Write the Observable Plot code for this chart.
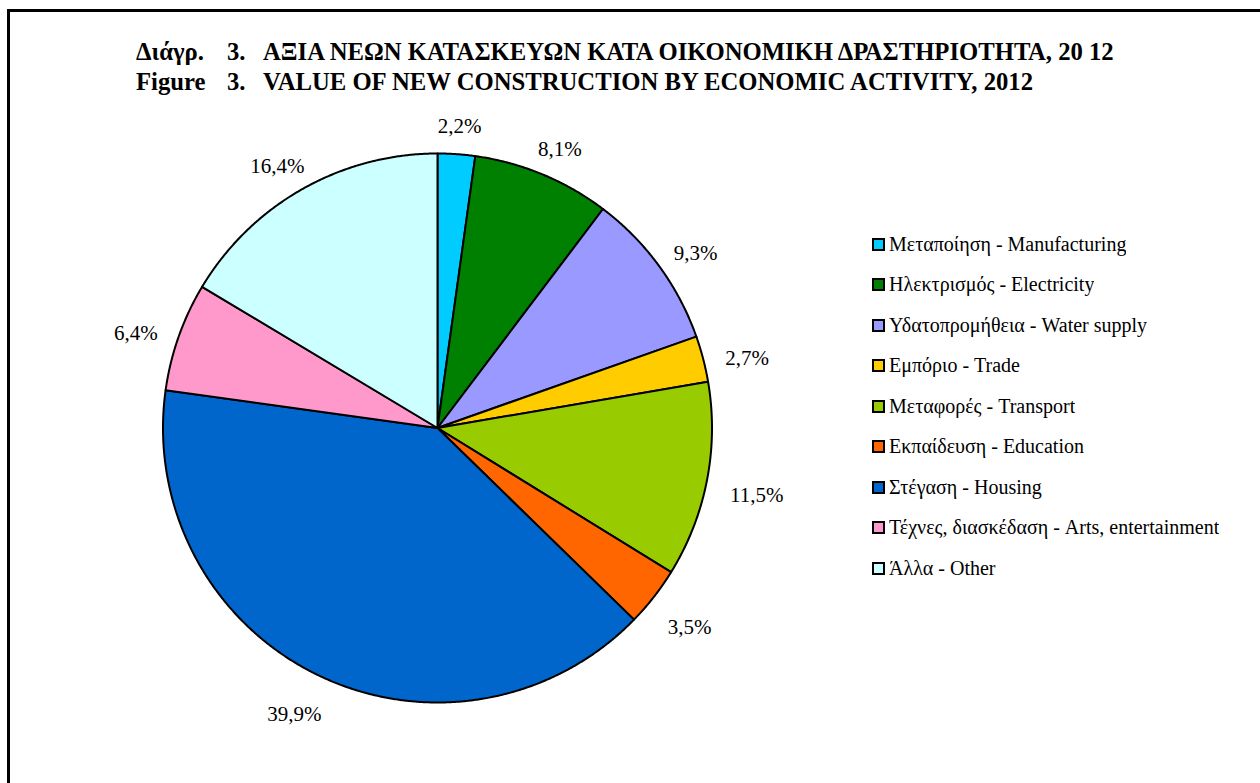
<!DOCTYPE html>
<html>
<head>
<meta charset="utf-8">
<script src="https://cdn.jsdelivr.net/npm/d3@7"></script>
<script src="https://cdn.jsdelivr.net/npm/@observablehq/plot@0.6"></script>
<style>
html, body { margin: 0; padding: 0; background: #fff; overflow: hidden; }
#wrap { position: relative; width: 1260px; height: 783px; overflow: hidden; font-family: "Liberation Serif", "Times New Roman", serif; color: #000; }
#frame { position: absolute; left: 7px; top: 9px; width: 1300px; height: 820px; border: 3px solid #000; box-sizing: border-box; pointer-events: none; }
.tl { position: absolute; font-weight: bold; font-size: 24.7px; line-height: 1; white-space: pre; }
</style>
</head>
<body>
<div id="wrap"><div id="frame"></div></div>
<script>
// ---- data ----
const categories = [
  "Μεταποίηση - Manufacturing",
  "Ηλεκτρισμός - Electricity",
  "Υδατοπρομήθεια - Water supply",
  "Εμπόριο - Trade",
  "Μεταφορές - Transport",
  "Εκπαίδευση - Education",
  "Στέγαση - Housing",
  "Τέχνες, διασκέδαση - Arts, entertainment",
  "Άλλα - Other"
];
const shares = [2.2, 8.1, 9.3, 2.7, 11.5, 3.5, 39.9, 6.4, 16.4];
const colors = ["#00CCFF", "#008000", "#9999FF", "#FFCC00", "#99CC00", "#FF6600", "#0066CC", "#FF99CC", "#CCFFFF"];
const titleLine1 = ["Διάγρ.", "3.", "ΑΞΙΑ ΝΕΩΝ ΚΑΤΑΣΚΕΥΩΝ ΚΑΤΑ ΟΙΚΟΝΟΜΙΚΗ ΔΡΑΣΤΗΡΙΟΤΗΤΑ, 20 12"];
const titleLine2 = ["Figure", "3.", "VALUE OF NEW CONSTRUCTION BY ECONOMIC ACTIVITY, 2012"];

// ---- layout ----
const W = 1260, H = 783;
const cx = 437, cy = 427.5, R = 274.5;   // pie centre and radius in px
const labelFont = 21;
const serif = '"Liberation Serif", "Times New Roman", serif';

const wrap = document.getElementById("wrap");

// title
const tabs = [136, 227, 263];
[[titleLine1, 40], [titleLine2, 70]].forEach(([parts, top]) => {
  parts.forEach((t, i) => {
    const s = document.createElement("div");
    s.className = "tl";
    s.style.left = tabs[i] + "px";
    s.style.top = top + "px";
    s.textContent = t;
    wrap.appendChild(s);
  });
});

// pie geometry from data
const total = d3.sum(shares);
const pie = d3.pie().value(d => d).sort(null)(shares);
const points = [];
pie.forEach((p, i) => {
  const name = categories[i];
  points.push({slice: name, x: 0, y: 0});
  const n = Math.max(4, Math.ceil((p.endAngle - p.startAngle) / 0.005));
  for (let k = 0; k <= n; k++) {
    const a = p.startAngle + (p.endAngle - p.startAngle) * k / n;
    points.push({slice: name, x: Math.sin(a), y: Math.cos(a)});
  }
  points.push({slice: name, x: 0, y: 0});
});

const fmt = d3.formatLocale({decimal: ",", thousands: ".", grouping: [3], currency: ["", "€"]}).format(".1f");
const labelData = pie.map((p, i) => {
  const a = (p.startAngle + p.endAngle) / 2;
  const text = fmt(shares[i] / total * 100) + "%";
  // estimated text box (px) -> push the box outward like an "outside end" label
  const digits = text.replace(/[^0-9]/g, "").length;
  const w = labelFont * (digits * 0.5 + 0.25 + 0.833);
  const h = labelFont * 1.15;
  const r0 = 298 / R;
  return {
    text,
    x: r0 * Math.sin(a) + (w / 2 / R) * Math.sin(a),
    y: r0 * Math.cos(a) + (h / 2 / R) * Math.cos(a) - 8 / R
  };
});

const chart = Plot.plot({
  width: W,
  height: H,
  margin: 0,
  x: {domain: [-cx / R, (W - cx) / R], axis: null},
  y: {domain: [-(H - cy) / R, cy / R], axis: null},
  color: {domain: categories, range: colors},
  style: {fontFamily: serif, background: "white", color: "black"},
  marks: [
    Plot.line(points, {x: "x", y: "y", z: "slice", fill: "slice", stroke: "black", strokeWidth: 2, strokeLinejoin: "round", curve: "linear"}),
    Plot.text(labelData, {x: "x", y: "y", text: "text", fontSize: labelFont, fill: "black", textAnchor: "middle", lineAnchor: "middle"})
  ]
});
chart.style.position = "absolute";
chart.style.left = "0px";
chart.style.top = "0px";
wrap.insertBefore(chart, wrap.firstChild);

// legend
const leg = Plot.legend({
  color: {domain: categories, range: colors},
  legend: "swatches",
  columns: 1,
  swatchSize: 11,
  style: {fontFamily: serif, fontSize: "20px", color: "#000", background: "transparent"}
});
leg.style.position = "absolute";
leg.style.left = "873px";
leg.style.top = "224px";
leg.style.width = "380px";
leg.style.margin = "0";
leg.querySelectorAll("svg").forEach(svg => {
  svg.style.marginRight = "5px";
  svg.style.overflow = "visible";
  svg.querySelectorAll("rect").forEach(r => { r.setAttribute("stroke", "#000"); r.setAttribute("stroke-width", "2"); });
  const sw = svg.parentNode;
  sw.style.height = "40.5px";
  sw.style.padding = "0";
  sw.style.margin = "0";
  sw.style.display = "flex";
  sw.style.alignItems = "center";
});
wrap.appendChild(leg);
</script>
</body>
</html>
